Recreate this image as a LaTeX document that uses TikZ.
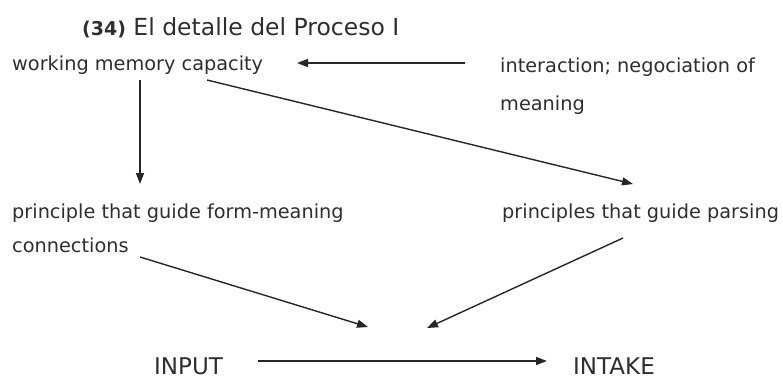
\documentclass[tikz,border=0pt]{standalone}
\usepackage{fontspec}
\setmainfont{DejaVu Sans}
\usetikzlibrary{arrows.meta}
\begin{document}
\begin{tikzpicture}[x=1pt,y=-1pt,
  txt/.style={inner sep=0pt, text=black!82, font=\fontsize{19.3}{23}\selectfont, anchor=base west},
  big/.style={inner sep=0pt, text=black!82, font=\fontsize{23}{28}\selectfont, anchor=base west},
  arr/.style={draw=black!85, line width=1.4pt, -{Triangle[length=11pt,width=8pt]}}]
\useasboundingbox (0,0) rectangle (783,380);
\node[big, font=\fontsize{23.5}{28}\selectfont] (title) at (82,35) {\textbf{\fontsize{19}{23}\selectfont(34)} El detalle del Proceso I};
\node[txt] (wm) at (12,70) {working memory capacity};
\node[txt] (inter) at (500,72) {interaction; negociation of};
\node[txt] (mean) at (500,110) {meaning};
\node[txt] (pfm) at (12,218) {principle that guide form-meaning};
\node[txt] (conn) at (12,252) {connections};
\node[txt] (pp) at (502,218) {principles that guide parsing};
\node[big] (input) at (154,374) {INPUT};
\node[big] (intake) at (573,374) {INTAKE};
\coordinate (a1s) at (465,63);
\coordinate (a1e) at (297,63);
\coordinate (a2s) at (140,80);
\coordinate (a2e) at (140,184);
\coordinate (a3s) at (207,80);
\coordinate (a3e) at (633,184);
\coordinate (a4s) at (140,257);
\coordinate (a4e) at (368,327);
\coordinate (a5s) at (623,238);
\coordinate (a5e) at (427,328);
\coordinate (a6s) at (258,361);
\coordinate (a6e) at (547,361);
\draw[arr] (a1s) -- (a1e);
\draw[arr] (a2s) -- (a2e);
\draw[arr] (a3s) -- (a3e);
\draw[arr] (a4s) -- (a4e);
\draw[arr] (a5s) -- (a5e);
\draw[arr] (a6s) -- (a6e);
\end{tikzpicture}
\end{document}
